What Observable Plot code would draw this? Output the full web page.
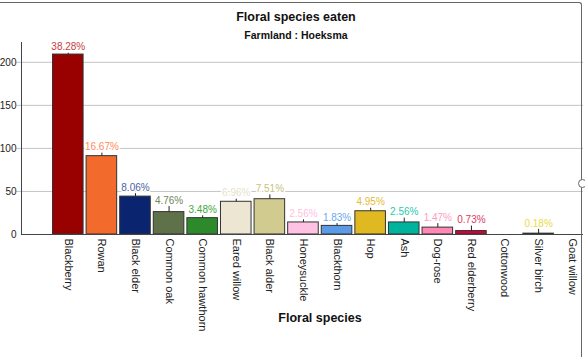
<!DOCTYPE html>
<html>
<head>
<meta charset="utf-8">
<script src="https://cdn.jsdelivr.net/npm/d3@7"></script>
<script src="https://cdn.jsdelivr.net/npm/@observablehq/plot@0.6"></script>
<style>
  html, body { margin: 0; padding: 0; background: #fff; }
  #wrap { position: relative; width: 585px; height: 357px; overflow: hidden; font-family: "Liberation Sans", Arial, sans-serif; }
  #border { position: absolute; left: -2px; top: 2px; width: 584px; height: 360px; border-top: 1.5px solid #666; border-right: 1.5px solid #666; border-top-right-radius: 3px; box-sizing: border-box; }
  .handle { position: absolute; left: 578px; width: 9px; height: 9px; border: 1.3px solid #666; border-radius: 50%; background: #fff; box-sizing: border-box; }
  .t { position: absolute; left: 0; width: 592px; text-align: center; font-weight: bold; color: #111; white-space: nowrap; }
  #chart { position: absolute; left: 0; top: 0; }
</style>
</head>
<body>
<div id="wrap">
  <div id="chart"></div>
  <div id="border"></div>
  <div class="handle" style="top:179px"></div>
  <div class="t" style="top:10px; font-size:12.5px;">Floral species eaten</div>
  <div class="t" style="top:29px; font-size:10.5px;">Farmland : Hoeksma</div>
  <div class="t" style="top:311px; left:30px; width:580px; font-size:12.5px;">Floral species</div>
</div>
<script>
const categories = ["Blackberry","Rowan","Black elder","Common oak","Common hawthorn","Eared willow","Black alder","Honeysuckle","Blackthorn","Hop","Ash","Dog-rose","Red elderberry","Cottonwood","Silver birch","Goat willow"];
const counts = [209, 91, 44, 26, 19, 38, 41, 14, 10, 27, 14, 8, 4, 0, 1, 0];
const percents = ["38.28%","16.67%","8.06%","4.76%","3.48%","6.96%","7.51%","2.56%","1.83%","4.95%","2.56%","1.47%","0.73%","","0.18%",""];
const errors = [1.5, 3.5, 3.5, 6.5, 2.7, 3, 5, 3, 2.7, 3.5, 5, 4.6, 5.8, 0, 5, 0];
const barColors = ["#990000","#f26b2c","#0a2470","#5e7148","#2c8a2c","#ece6d3","#d2cb8f","#ffc2e2","#5b9ae6","#e0b822","#00b39c","#ff88b4","#d4003a","#ffffff","#f0e060","#ffffff"];
const labelColors = ["#c83c3c","#ff8a5a","#4a64a4","#748460","#3ea83e","#e8e2cc","#c8c27e","#ffbfe0","#6ea6ee","#e4bc30","#2cc8b0","#ff9cc2","#e03a5e","#000000","#e8dc40","#000000"];
const yTicks = [0, 50, 100, 150, 200];

const data = categories.map((c, i) => ({
  cat: c, count: counts[i], pct: percents[i], err: errors[i],
  barColor: barColors[i], labelColor: labelColors[i]
}));

const chart = Plot.plot({
  width: 585,
  height: 357,
  marginTop: 42,
  marginBottom: 123,
  marginLeft: 21,
  marginRight: 2,
  style: { fontFamily: "'Liberation Sans', Arial, sans-serif", background: "transparent", overflow: "visible", color: "#222" },
  x: { domain: categories, range: [52.5, 587], paddingInner: 0.09, paddingOuter: 0, round: false, label: null },
  y: { domain: [0, 223], label: null },
  color: { type: "identity" },
  marks: [
    Plot.gridY(yTicks.slice(1), { stroke: "#c4c4c4", strokeOpacity: 1, insetLeft: -5 }),
    Plot.axisY({ ticks: yTicks, tickSize: 0, tickPadding: 5, fontSize: 10, fill: "#222" }),
    Plot.barY(data.filter(d => d.count > 0), { x: "cat", y: "count", fill: "barColor", stroke: "#333", strokeWidth: 1 }),
    Plot.ruleX(data.filter(d => d.err > 0), { x: "cat", y1: "count", y2: d => d.count + d.err, stroke: "#222", strokeWidth: 1 }),
    Plot.text(data.filter(d => d.pct), { x: "cat", y: d => d.count + d.err, text: "pct", fill: "labelColor", dy: -6, fontSize: 10, stroke: "white", strokeWidth: 3 }),
    Plot.ruleY([0], { stroke: "#444" }),
    Plot.frame({ anchor: "left", stroke: "#444" }),
    Plot.axisX({ tickRotate: 90, tickSize: 0, tickPadding: 4, fontSize: 11, fill: "#222", label: null })
  ]
});
document.getElementById("chart").appendChild(chart);
</script>
</body>
</html>
